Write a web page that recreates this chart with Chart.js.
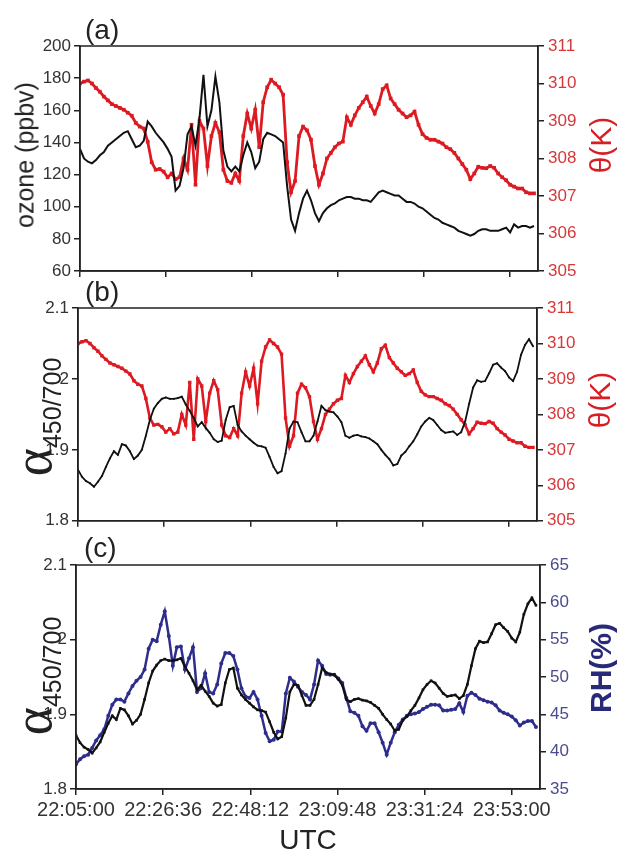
<!DOCTYPE html>
<html lang="en">
<head>
<meta charset="UTF-8" />
<title>ozone, theta, alpha, RH</title>
<script src="https://cdn.jsdelivr.net/npm/chart.js@4.4.1/dist/chart.umd.min.js"></script>
<style>
  body { margin: 0; background: #fff; }
  #wrap { position: relative; width: 618px; height: 853px; font-family: "Liberation Sans", Arial, sans-serif; color: #222; }
  canvas { position: absolute; left: 0; }
  .lab { position: absolute; white-space: nowrap; line-height: 1; }
  .mid { transform: translate(-50%, -50%); }
  .rot { transform: translate(-50%, -50%) rotate(-90deg); }
  .alpha { font-family: "Liberation Serif", "DejaVu Serif", serif; font-size: 54px; }
  .sub { font-size: 25px; position: relative; top: 10px; }
</style>
</head>
<body>
<div id="wrap">
  <canvas id="ca" width="618" height="290" style="top:0"></canvas>
  <canvas id="cb" width="618" height="245" style="top:290px"></canvas>
  <canvas id="cc" width="618" height="318" style="top:535px"></canvas>

  <div class="lab" style="left:85px; top:16px; font-size:28px">(a)</div>
  <div class="lab" style="left:85px; top:278px; font-size:28px">(b)</div>
  <div class="lab" style="left:84px; top:534px; font-size:28px">(c)</div>

  <div class="lab rot" style="left:25px; top:155px; font-size:25px">ozone (ppbv)</div>
  <div class="lab rot" style="left:601px; top:145px; font-size:30px; color:#d81e25">θ(K)</div>
  <div class="lab rot" style="left:600px; top:400px; font-size:30px; color:#d81e25">θ(K)</div>
  <div class="lab rot" style="left:601px; top:668px; font-size:30px; font-weight:bold; color:#29297a">RH(%)</div>
  <div class="lab rot" style="left:33px; top:417px"><span class="alpha">α</span><span class="sub">450/700</span></div>
  <div class="lab rot" style="left:33px; top:676px"><span class="alpha">α</span><span class="sub">450/700</span></div>
  <div class="lab mid" style="left:308px; top:840px; font-size:28px">UTC</div>
</div>

<script>
  // minutes after 22:05:00 UTC
  const minutes = [
    0, 1, 2, 3, 4, 5, 6, 7, 8, 9, 10, 11, 12, 13, 14, 15, 16, 17, 18, 19,
    20, 21, 22, 23, 24, 25, 26, 27, 28, 29, 30, 31, 32, 33, 34, 35, 36, 37, 38, 39,
    40, 41, 42, 43, 44, 45, 46, 47, 48, 49, 50, 51, 52, 53, 54, 55, 56, 57, 58, 59,
    60, 61, 62, 63, 64, 65, 66, 67, 68, 69, 70, 71, 72, 73, 74, 75, 76, 77, 78, 79,
    80, 81, 82, 83, 84, 85, 86, 87, 88, 89, 90, 91, 92, 93, 94, 95, 96, 97, 98, 99,
    100, 101, 102, 103, 104, 105, 106, 107, 108, 109, 110, 111, 112, 113, 114
  ];

  const ozone = [
    136, 130, 128, 127, 129, 132, 134, 138, 140, 142,
    144, 146, 147, 142, 137, 138, 141, 153, 150, 146,
    143, 140, 136, 131, 110, 113, 124, 145, 150, 138,
    155, 182, 150, 160, 181, 165, 135, 125, 122, 125,
    122, 132, 140, 134, 124, 128, 142, 146, 145, 144,
    142, 140, 113, 92, 85, 96, 105, 110, 104, 96,
    91, 96, 99, 101, 102, 104, 105, 106, 106, 105,
    105, 104, 104, 103, 106, 109, 110, 109, 108, 107,
    107, 105, 103, 103, 102, 100, 99, 97, 95, 93,
    92, 90, 89, 88, 87, 85, 84, 83, 82, 83,
    85, 86, 86, 85, 85, 85, 86, 87, 84, 89,
    87, 88, 88, 87, 88
  ];

  const theta = [
    310.0, 310.05, 310.08, 310.0, 309.88, 309.78, 309.65, 309.55, 309.45, 309.4,
    309.35, 309.3, 309.22, 309.14, 308.95, 308.85, 308.8, 308.45, 307.9, 307.7,
    307.72, 307.65, 307.5, 307.6, 307.45, 307.5, 308.0, 307.7, 308.9, 307.3,
    309.0, 308.8, 307.8, 308.6, 308.95, 308.7, 307.7, 307.4, 307.35, 307.6,
    307.4, 308.6, 309.2, 308.8, 309.3, 308.3, 309.5, 309.9, 310.1, 310.0,
    309.9, 309.7, 307.9, 307.1, 307.4, 308.6, 308.85, 308.75, 308.5, 307.8,
    307.3, 307.6, 308.0, 308.15, 308.3, 308.4, 308.45, 309.1, 308.9, 309.15,
    309.35, 309.5, 309.65, 309.4, 309.2, 309.45, 309.85, 309.95, 309.6, 309.45,
    309.3, 309.2, 309.1, 309.15, 309.25, 308.9, 308.65, 308.55, 308.5, 308.5,
    308.45, 308.4, 308.3, 308.25, 308.15, 308.0, 307.85, 307.7, 307.45, 307.6,
    307.78, 307.75, 307.74, 307.8, 307.75, 307.6, 307.5, 307.42, 307.3, 307.25,
    307.2, 307.2, 307.1, 307.07, 307.07
  ];

  const alpha = [
    1.872, 1.862, 1.856, 1.853, 1.848, 1.855, 1.863, 1.876, 1.888, 1.898,
    1.893, 1.908, 1.906, 1.898, 1.887, 1.892, 1.900, 1.920, 1.942, 1.958,
    1.966, 1.972, 1.974, 1.972, 1.972, 1.973, 1.975, 1.964, 1.955, 1.945,
    1.933, 1.939, 1.931, 1.924, 1.915, 1.911, 1.913, 1.942, 1.960, 1.962,
    1.935, 1.926, 1.920, 1.915, 1.910, 1.906, 1.905, 1.903, 1.890, 1.876,
    1.867, 1.870, 1.895, 1.930, 1.940, 1.939, 1.925, 1.912, 1.912, 1.920,
    1.940, 1.962, 1.956, 1.954, 1.953, 1.947, 1.939, 1.920, 1.917, 1.920,
    1.921, 1.919, 1.918, 1.916, 1.912, 1.908, 1.900, 1.893, 1.887, 1.878,
    1.880, 1.892, 1.897, 1.905, 1.912, 1.922, 1.933, 1.940, 1.945, 1.942,
    1.935, 1.928, 1.924, 1.925, 1.926, 1.921, 1.925, 1.940, 1.965, 1.988,
    1.998, 1.996, 1.997, 2.008, 2.020, 2.022, 2.016, 2.011, 2.002, 1.997,
    2.010, 2.034, 2.048, 2.056, 2.046
  ];

  const rh = [
    38.3, 39.0, 39.4, 39.6, 40.5, 41.5, 42.2, 43.0, 44.8, 46.3,
    47.0, 47.0, 46.7, 47.8, 48.8, 49.5, 50.0, 51.0, 53.8, 55.0,
    54.8, 57.0, 58.8, 55.5, 51.5, 54.0, 54.1, 51.0, 52.5, 54.0,
    48.0, 48.5, 50.5, 48.0, 47.8, 49.0, 51.8, 53.2, 53.2, 52.8,
    51.0, 48.5, 47.4, 47.2, 48.0, 47.0, 44.8, 42.5, 41.4, 41.6,
    42.7, 42.7, 47.8, 49.9, 49.4, 48.7, 48.0, 47.6, 47.0, 49.0,
    52.2, 51.5, 50.4, 50.3, 50.3, 49.8, 49.2, 47.2, 45.4, 45.2,
    44.8, 43.4, 42.8, 43.8, 43.8, 42.6, 41.2, 39.6, 41.2, 42.6,
    43.6, 44.3, 44.8, 45.0, 45.1, 45.3, 45.7, 46.0, 46.3, 46.3,
    46.2, 45.5, 45.5, 45.6, 45.7, 46.5, 45.3, 47.5, 47.9, 47.6,
    47.1, 46.9, 46.7, 46.6, 46.2, 45.5, 45.2, 45.0, 44.7, 44.2,
    43.5, 43.9, 44.1, 44.1, 43.3
  ];

  const timeTicks = [0, 21.6, 43.2, 64.8, 86.4, 108];
  const timeLabels = ['22:05:00', '22:26:36', '22:48:12', '23:09:48', '23:31:24', '23:53:00'];

  const RED = '#dd1a22';
  const BLUE = '#2e2d8c';
  const W = 618;

  Chart.defaults.font.family = '"Liberation Sans", Arial, sans-serif';

  const frame = {
    id: 'frame',
    afterDraw(c) {
      const a = c.chartArea, ctx = c.ctx;
      ctx.save();
      ctx.strokeStyle = '#222';
      ctx.lineWidth = 1.5;
      ctx.strokeRect(a.left, a.top, a.right - a.left, a.bottom - a.top);
      ctx.restore();
    }
  };

  const grid = { drawOnChartArea: false, drawTicks: true, tickLength: 6, color: '#222', lineWidth: 1.5 };
  const border = { display: true, color: '#222', width: 1.5 };
  const pts = ys => minutes.map((m, i) => ({ x: m, y: ys[i] }));
  const oneDec = v => String(Math.round(v * 10) / 10);

  function line(ys, axis, color, style, r, w) {
    return {
      data: pts(ys), yAxisID: axis,
      borderColor: color, backgroundColor: color, borderWidth: w,
      pointStyle: style, pointRadius: r, pointBorderWidth: 0, tension: 0
    };
  }

  function panel(id, h, box, leftAx, rightAx, sets, showX) {
    new Chart(document.getElementById(id), {
      type: 'line',
      data: { datasets: sets },
      options: {
        responsive: false,
        animation: false,
        layout: { padding: { top: box.top, left: 0, right: 0, bottom: 0 } },
        plugins: { legend: { display: false }, tooltip: { enabled: false } },
        scales: {
          x: {
            type: 'linear', min: 0, max: 115,
            afterBuildTicks: s => { s.ticks = timeTicks.map(v => ({ value: v })); },
            afterFit: s => { s.height = h - box.bottom; },
            grid, border,
            ticks: {
              color: '#333', font: { size: 20 }, padding: 3, maxRotation: 0, autoSkip: false,
              callback: (v, i) => showX ? timeLabels[i] : ''
            }
          },
          y: Object.assign({
            position: 'left', grid, border,
            afterFit: s => { s.width = box.left; }
          }, leftAx),
          y2: Object.assign({
            position: 'right', grid, border,
            afterFit: s => { s.width = W - box.right; }
          }, rightAx)
        }
      },
      plugins: [frame]
    });
  }

  const thetaAxis = {
    min: 305, max: 311,
    ticks: { stepSize: 1, color: '#d6383a', font: { size: 17 }, padding: 4 }
  };
  const alphaAxis = {
    min: 1.8, max: 2.1,
    ticks: { stepSize: 0.1, color: '#333', font: { size: 17 }, padding: 3, callback: oneDec }
  };

  // (a) ozone and potential temperature
  panel('ca', 290, { left: 80, right: 538, top: 46, bottom: 271 },
    { min: 60, max: 200, ticks: { stepSize: 20, color: '#333', font: { size: 17 }, padding: 3 } },
    thetaAxis,
    [line(ozone, 'y', '#111', 'crossRot', 2, 2), line(theta, 'y2', RED, 'rect', 2.6, 2.8)],
    false);

  // (b) Angstrom exponent and potential temperature
  panel('cb', 245, { left: 78, right: 537, top: 18, bottom: 233 },
    alphaAxis,
    thetaAxis,
    [line(alpha, 'y', '#111', 'circle', 1, 1.8), line(theta, 'y2', RED, 'rect', 2.4, 2.6)],
    false);

  // (c) Angstrom exponent and relative humidity
  panel('cc', 318, { left: 76, right: 540, top: 30, bottom: 254 },
    alphaAxis,
    { min: 35, max: 65, ticks: { stepSize: 5, color: '#4b4b8f', font: { size: 17 }, padding: 4 } },
    [line(alpha, 'y', '#111', 'rect', 1.8, 2.2), line(rh, 'y2', BLUE, 'circle', 2, 2.5)],
    true);
</script>
</body>
</html>
